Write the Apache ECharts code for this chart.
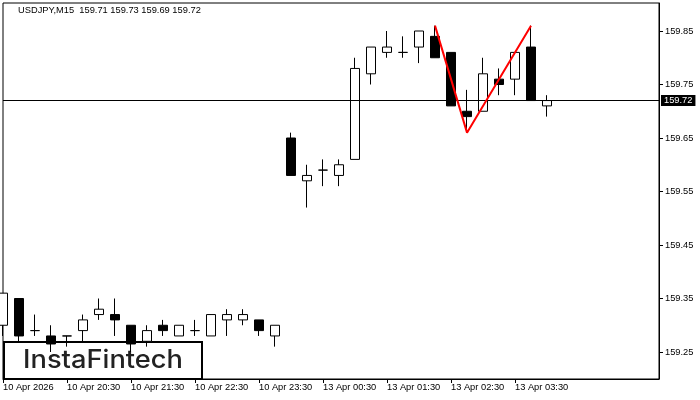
<!DOCTYPE html>
<html>
<head>
<meta charset="utf-8">
<script src="https://cdn.jsdelivr.net/npm/echarts@6/dist/echarts.min.js"></script>
<style>
html,body{margin:0;padding:0;background:#fff;}
#chart{width:700px;height:400px;}
</style>
</head>
<body>
<div id="chart"></div>
<script>
// ---- data ----
var categories = [
  '10 Apr 19:30','10 Apr 19:45','10 Apr 20:00','10 Apr 20:15','10 Apr 20:30','10 Apr 20:45',
  '10 Apr 21:00','10 Apr 21:15','10 Apr 21:30','10 Apr 21:45','10 Apr 22:00','10 Apr 22:15',
  '10 Apr 22:30','10 Apr 22:45','10 Apr 23:00','10 Apr 23:15','10 Apr 23:30','10 Apr 23:45',
  '13 Apr 00:00','13 Apr 00:15','13 Apr 00:30','13 Apr 00:45','13 Apr 01:00','13 Apr 01:15',
  '13 Apr 01:30','13 Apr 01:45','13 Apr 02:00','13 Apr 02:15','13 Apr 02:30','13 Apr 02:45',
  '13 Apr 03:00','13 Apr 03:15','13 Apr 03:30','13 Apr 03:45','13 Apr 04:00','13 Apr 04:15',
  '13 Apr 04:30','13 Apr 04:45','13 Apr 05:00','13 Apr 05:15','13 Apr 05:30','13 Apr 05:45'
];
var opens  = [159.30,159.35,159.29,159.28,159.28,159.29,159.32,159.32,159.30,159.27,159.30,159.28,
              159.29,159.28,159.31,159.31,159.31,159.28,159.65,159.57,159.59,159.58,159.61,159.77,
              159.81,159.81,159.82,159.84,159.81,159.70,159.70,159.76,159.76,159.82,159.71];
var closes = [159.36,159.28,159.29,159.265,159.28,159.31,159.33,159.31,159.265,159.29,159.29,159.30,
              159.29,159.32,159.32,159.32,159.29,159.30,159.58,159.58,159.59,159.60,159.78,159.82,
              159.82,159.81,159.85,159.80,159.71,159.69,159.77,159.75,159.81,159.72,159.72];
var lows   = [159.28,159.27,159.28,159.25,159.26,159.27,159.31,159.28,159.25,159.26,159.28,159.28,
              159.28,159.28,159.28,159.30,159.28,159.26,159.58,159.52,159.56,159.56,159.61,159.75,
              159.80,159.80,159.79,159.80,159.71,159.66,159.70,159.73,159.73,159.72,159.69];
var highs  = [159.36,159.35,159.32,159.30,159.28,159.32,159.35,159.35,159.30,159.30,159.31,159.30,
              159.31,159.32,159.33,159.33,159.31,159.30,159.66,159.60,159.61,159.61,159.80,159.82,
              159.85,159.84,159.85,159.86,159.81,159.74,159.80,159.78,159.81,159.86,159.73];
var patternIdx = [27, 29, 33];
var patternVal = [159.86, 159.66, 159.86];
var yTicks = [159.25, 159.35, 159.45, 159.55, 159.65, 159.75, 159.85];
var xTickIdx = [0, 4, 8, 12, 16, 20, 24, 28, 32];
var firstLabel = '10 Apr 2026';
var currentPrice = 159.72;
var titleText = 'USDJPY,M15  159.71 159.73 159.69 159.72';

// ---- build ----
var candleData = opens.map(function (o, i) { return [o, closes[i], lows[i], highs[i]]; });
var patternData = patternIdx.map(function (k, i) { return [k, patternVal[i]]; });
var font = 'Liberation Sans';
var fs = 9.3;

var chart = echarts.init(document.getElementById('chart'), null, {renderer: 'canvas'});
chart.setOption({
  animation: false,
  backgroundColor: '#fff',
  grid: {left: 3, right: 41, top: 3, bottom: 21, show: true, borderColor: '#000', borderWidth: 1, backgroundColor: '#fff'},
  xAxis: {
    type: 'category',
    data: categories,
    boundaryGap: false,
    axisLine: {show: true, lineStyle: {color: '#000', width: 1}},
    axisTick: {show: true, length: 4, lineStyle: {color: '#000'},
      interval: function (i) { return xTickIdx.indexOf(i) >= 0; }},
    axisLabel: {
      interval: function (i) { return xTickIdx.indexOf(i) >= 0; },
      formatter: function (v, i) { return i === 0 ? firstLabel : v; },
      align: 'left', margin: 4, color: '#000', fontFamily: font, fontSize: fs
    },
    splitLine: {show: false}
  },
  yAxis: {
    type: 'value',
    position: 'right',
    min: 159.85 - 348 / 535,
    max: 159.85 + 28 / 535,
    scale: true,
    axisLine: {show: true, lineStyle: {color: '#000', width: 1}},
    axisTick: {show: true, length: 4, lineStyle: {color: '#000'}, customValues: yTicks},
    axisLabel: {customValues: yTicks, margin: 6, color: '#000', fontFamily: font, fontSize: fs,
      formatter: function (v) { return v.toFixed(2); }},
    splitLine: {show: false}
  },
  series: [
    {
      type: 'candlestick',
      data: candleData,
      barWidth: 10,
      itemStyle: {color: '#fff', color0: '#000', borderColor: '#000', borderColor0: '#000', borderWidth: 1},
      markLine: {
        silent: true,
        symbol: ['none', 'none'],
        lineStyle: {color: '#000', width: 1, type: 'solid'},
        label: {show: true, position: 'end', distance: 2, formatter: currentPrice.toFixed(2),
          backgroundColor: '#000', color: '#fff', padding: [1, 3, 1, 3], fontFamily: font, fontSize: fs},
        data: [{yAxis: currentPrice}]
      }
    },
    {
      type: 'line',
      data: patternData,
      symbol: 'none',
      lineStyle: {color: '#ff0000', width: 2},
      z: 5
    }
  ],
  graphic: [
    {type: 'text', left: 18, top: 6, style: {text: titleText, fill: '#000', font: fs + 'px "Liberation Sans"'}},
    {type: 'group', left: 3, top: 341, z: 100, children: [
      {type: 'rect', shape: {x: 0, y: 0, width: 198, height: 37}, style: {fill: '#fff', stroke: '#000', lineWidth: 2}},
      {type: 'text', x: 99, y: 18, scaleX: 1.09, style: {text: 'InstaFintech', fill: '#222', font: '500 25px Inter', textAlign: 'center', textVerticalAlign: 'middle'}}
    ]}
  ]
});
</script>
</body>
</html>
